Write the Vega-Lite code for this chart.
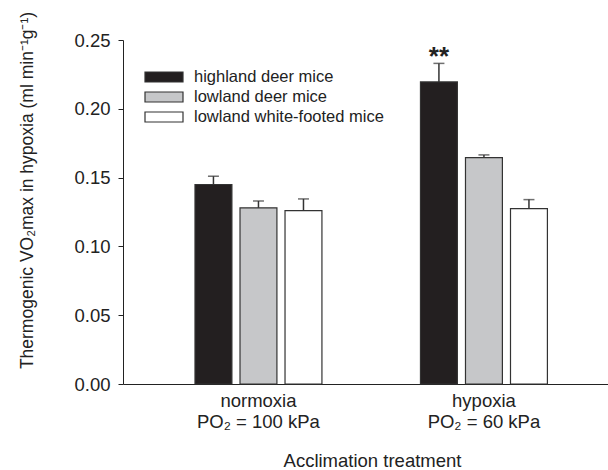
{
  "$schema": "https://vega.github.io/schema/vega-lite/v6.json",
  "width": 485,
  "height": 344,
  "autosize": {"type": "none"},
  "padding": {"left": 123, "top": 40, "right": 0, "bottom": 86},
  "background": "white",
  "config": {
    "font": "Liberation Sans",
    "view": {"stroke": null},
    "axis": {"grid": false, "domainColor": "#222", "tickColor": "#222", "labelColor": "#222", "titleColor": "#222", "titleFontWeight": "normal", "labelFont": "Liberation Sans", "titleFont": "Liberation Sans"}
  },
  "data": {
    "values": [
      {"treatment": "normoxia", "species": "highland deer mice", "value": 0.145, "upper": 0.151, "sig": ""},
      {"treatment": "normoxia", "species": "lowland deer mice", "value": 0.128, "upper": 0.133, "sig": ""},
      {"treatment": "normoxia", "species": "lowland white-footed mice", "value": 0.126, "upper": 0.1345, "sig": ""},
      {"treatment": "hypoxia", "species": "highland deer mice", "value": 0.2195, "upper": 0.233, "sig": "**"},
      {"treatment": "hypoxia", "species": "lowland deer mice", "value": 0.1645, "upper": 0.1665, "sig": ""},
      {"treatment": "hypoxia", "species": "lowland white-footed mice", "value": 0.1275, "upper": 0.134, "sig": ""}
    ]
  },
  "encoding": {
    "x": {
      "field": "treatment", "type": "nominal", "sort": ["normoxia", "hypoxia"],
      "scale": {"paddingInner": 0.437, "paddingOuter": 0.294, "align": 0.543},
      "axis": {
        "title": "Acclimation treatment", "titleFontSize": 18.5, "titleX": 249, "titleY": 76, "titleBaseline": "middle", "titleAnchor": null, "titleAlign": "center",
        "labelAngle": 0, "ticks": false, "labelFontSize": 18.5, "labelPadding": 7, "labelLineHeight": 21,
        "labelExpr": "datum.value == 'normoxia' ? ['normoxia', 'PO\u2082 = 100 kPa'] : ['hypoxia', 'PO\u2082 = 60 kPa']"
      }
    },
    "xOffset": {
      "field": "species", "type": "nominal",
      "sort": ["highland deer mice", "lowland deer mice", "lowland white-footed mice"],
      "scale": {"paddingInner": 0.18, "paddingOuter": 0}
    }
  },
  "layer": [
    {
      "mark": {"type": "bar", "stroke": "#333", "strokeWidth": 1.2},
      "encoding": {
        "y": {
          "field": "value", "type": "quantitative",
          "scale": {"domain": [0, 0.25], "nice": false},
          "axis": {
            "values": [0, 0.05, 0.1, 0.15, 0.2, 0.25], "format": ".2f",
            "labelFontSize": 18.5, "tickSize": 5, "labelPadding": 8,
            "title": "Thermogenic VO\u2082max in hypoxia (ml min\u207b\u00b9g\u207b\u00b9)",
            "titleFontSize": 17.5, "titleX": -96, "titleY": 150, "titleAngle": -90, "titleAlign": "center", "titleBaseline": "middle", "titleAnchor": null
          }
        },
        "fill": {
          "field": "species", "type": "nominal",
          "sort": ["highland deer mice", "lowland deer mice", "lowland white-footed mice"],
          "scale": {"domain": ["highland deer mice", "lowland deer mice", "lowland white-footed mice"], "range": ["#231f20", "#c6c7c9", "#ffffff"]},
          "legend": {
            "title": null, "orient": "none", "legendX": 30, "legendY": 26,
            "symbolType": "M-1.9,-0.5H1.9V0.5H-1.9Z", "symbolSize": 400,
            "symbolStrokeColor": "#333", "symbolStrokeWidth": 1.2, "symbolOpacity": 1,
            "labelFontSize": 16.5, "labelColor": "#222", "labelOffset": 19, "rowPadding": -1.5, "labelLimit": 400
          }
        }
      }
    },
    {
      "mark": {"type": "rule", "color": "#333", "strokeWidth": 1.5},
      "encoding": {
        "y": {"field": "value", "type": "quantitative"},
        "y2": {"field": "upper"}
      }
    },
    {
      "mark": {"type": "tick", "color": "#333", "thickness": 1.5, "size": 11, "orient": "horizontal"},
      "encoding": {
        "y": {"field": "upper", "type": "quantitative"}
      }
    },
    {
      "transform": [{"filter": "datum.sig != ''"}],
      "mark": {"type": "text", "fontSize": 26, "fontWeight": "bold", "baseline": "alphabetic", "dy": 2, "color": "#222"},
      "encoding": {
        "y": {"field": "upper", "type": "quantitative"},
        "text": {"field": "sig"}
      }
    }
  ]
}
